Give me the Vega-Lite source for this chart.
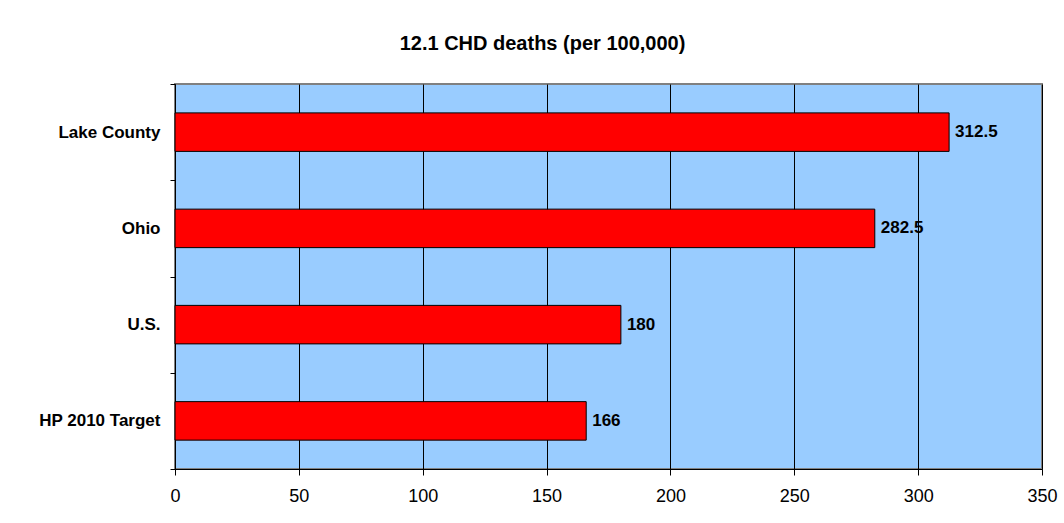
{
  "$schema": "https://vega.github.io/schema/vega-lite/v6.json",
  "autosize": {"type": "fit", "contains": "padding"},
  "width": 1064,
  "height": 523,
  "padding": {"left": 38, "right": 6, "top": 34, "bottom": 18},
  "background": "white",
  "title": {
    "text": "12.1 CHD deaths (per 100,000)",
    "font": "Liberation Sans",
    "fontSize": 20,
    "fontWeight": "bold",
    "color": "black",
    "anchor": "middle",
    "dx": -66,
    "offset": 21
  },
  "data": {
    "values": [
      {"area": "Lake County", "rate": 312.5, "label": "312.5"},
      {"area": "Ohio", "rate": 282.5, "label": "282.5"},
      {"area": "U.S.", "rate": 180, "label": "180"},
      {"area": "HP 2010 Target", "rate": 166, "label": "166"}
    ]
  },
  "encoding": {
    "y": {
      "field": "area",
      "type": "nominal",
      "sort": null,
      "scale": {"paddingInner": 0, "paddingOuter": 0},
      "axis": {
        "title": null,
        "labelFont": "Liberation Sans",
        "labelFontSize": 17,
        "labelFontWeight": "bold",
        "labelColor": "black",
        "labelPadding": 10,
        "tickBand": "extent",
        "tickColor": "black",
        "tickSize": 5,
        "domainColor": "black",
        "domainWidth": 1,
        "grid": false
      }
    },
    "x": {
      "field": "rate",
      "type": "quantitative",
      "scale": {"domain": [0, 350], "nice": false},
      "axis": {
        "title": null,
        "values": [0, 50, 100, 150, 200, 250, 300, 350],
        "labelFont": "Liberation Sans",
        "labelFontSize": 18,
        "labelColor": "black",
        "labelPadding": 12,
        "labelFlush": false,
        "labelOverlap": false,
        "tickColor": "black",
        "tickSize": 6,
        "domainColor": "black",
        "grid": true,
        "gridColor": "black",
        "gridOpacity": 1,
        "gridWidth": 1
      }
    }
  },
  "layer": [
    {
      "mark": {"type": "bar", "color": "#FF0000", "stroke": "black", "strokeWidth": 1, "height": {"band": 0.4}}
    },
    {
      "mark": {
        "type": "text",
        "align": "left",
        "baseline": "middle",
        "dx": 6,
        "font": "Liberation Sans",
        "fontSize": 17,
        "fontWeight": "bold",
        "color": "black"
      },
      "encoding": {"text": {"field": "label"}}
    }
  ],
  "config": {
    "view": {"fill": "#99CCFF", "stroke": "#808080", "strokeWidth": 2}
  }
}
